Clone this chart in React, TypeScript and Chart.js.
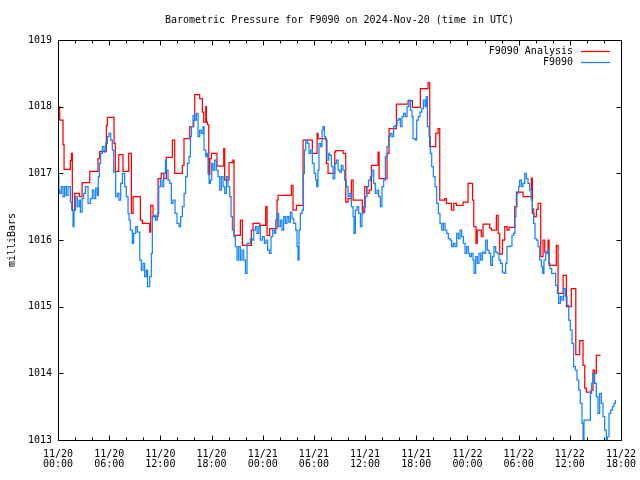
import React, { useEffect, useRef } from 'react';
import { Chart, registerables } from 'chart.js';

Chart.register(...registerables);

const TITLE = 'Barometric Pressure for F9090 on 2024-Nov-20 (time in UTC)';
const Y_TITLE = 'milliBars';
const SERIES_NAMES = ['F9090 Analysis', 'F9090'];
const SERIES_COLORS = ['#ff0000', '#1485ff'];

// hours since 2024-11-20 00:00 UTC; labels every 6 h
const xTickLabels = [
  ['11/20', '00:00'], ['11/20', '06:00'], ['11/20', '12:00'], ['11/20', '18:00'],
  ['11/21', '00:00'], ['11/21', '06:00'], ['11/21', '12:00'], ['11/21', '18:00'],
  ['11/22', '00:00'], ['11/22', '06:00'], ['11/22', '12:00'], ['11/22', '18:00'],
];
const yTickValues = [1013, 1014, 1015, 1016, 1017, 1018, 1019];

// F9090 Analysis (step series)
const redTimes = [0, 0.2, 0.59, 0.71, 1.45, 1.57, 1.68, 1.96, 2.5, 2.82, 3.72, 4.69, 4.89, 5.67, 5.79, 6.57, 6.72, 7.12, 7.62, 8.29, 8.6, 8.8, 9.66, 9.89, 10.75, 10.87, 11.14, 11.73, 12.1, 12.4, 12.7, 13.41, 13.68, 14.58, 14.77, 15.44, 15.91, 16.03, 16.61, 16.92, 17.08, 17.32, 17.4, 17.51, 17.67, 17.8, 17.98, 18.64, 19.43, 19.54, 20.05, 20.5, 20.64, 21.38, 21.61, 22.67, 22.86, 23.65, 24.35, 24.51, 24.82, 25.68, 25.8, 27.36, 27.55, 27.95, 28.73, 29.82, 30.37, 30.48, 31.46, 31.66, 32.44, 32.55, 33.41, 33.73, 34.0, 34.39, 34.59, 35.68, 35.96, 36.2, 36.47, 36.74, 37.52, 37.64, 38.57, 38.81, 39.67, 41.04, 41.54, 42.48, 43.38, 43.58, 44.28, 44.55, 44.75, 45.33, 45.53, 46.12, 46.4, 46.7, 47.48, 48.07, 48.6, 48.74, 49.0, 49.15, 49.63, 49.83, 50.61, 50.81, 51.39, 51.59, 51.78, 52.1, 52.37, 52.65, 52.88, 53.54, 53.74, 54.52, 55.49, 55.61, 55.81, 56.08, 56.28, 56.59, 56.86, 57.06, 57.45, 57.57, 58.42, 58.62, 59.21, 59.6, 60.18, 60.7, 61.16, 61.55, 61.75, 61.94, 62.5, 62.72, 62.9, 63.11, 63.6];
const redValues = [1018.0, 1017.8, 1017.43, 1017.06, 1017.19, 1017.3, 1016.45, 1016.7, 1016.65, 1016.86, 1017.03, 1017.22, 1017.33, 1017.72, 1017.84, 1017.45, 1017.03, 1017.28, 1017.03, 1017.3, 1016.4, 1016.65, 1016.3, 1016.25, 1016.12, 1016.52, 1016.35, 1016.92, 1017.0, 1016.92, 1017.24, 1017.5, 1017.0, 1017.12, 1017.52, 1017.7, 1017.8, 1018.18, 1018.12, 1017.92, 1017.77, 1018.0, 1017.77, 1017.73, 1016.98, 1017.22, 1017.3, 1017.11, 1017.37, 1016.9, 1017.16, 1017.2, 1016.07, 1016.3, 1015.92, 1016.15, 1016.25, 1016.22, 1016.5, 1016.07, 1016.17, 1016.6, 1016.67, 1016.82, 1016.45, 1016.52, 1017.5, 1017.3, 1017.6, 1017.52, 1017.15, 1017.0, 1017.32, 1017.34, 1017.3, 1016.57, 1016.62, 1016.9, 1016.6, 1016.42, 1016.8, 1016.7, 1016.75, 1017.12, 1017.32, 1016.92, 1017.3, 1017.67, 1018.04, 1018.09, 1017.99, 1018.27, 1018.36, 1017.4, 1017.6, 1017.67, 1016.6, 1016.62, 1016.55, 1016.45, 1016.55, 1016.52, 1016.57, 1016.85, 1016.6, 1016.2, 1015.95, 1016.15, 1016.05, 1016.24, 1016.18, 1016.15, 1016.37, 1016.1, 1015.79, 1016.0, 1016.2, 1016.15, 1016.19, 1016.5, 1016.72, 1016.65, 1016.93, 1016.4, 1016.35, 1016.46, 1016.55, 1015.75, 1016.0, 1015.82, 1016.0, 1015.62, 1015.92, 1015.2, 1015.47, 1015.0, 1015.27, 1014.28, 1014.49, 1014.12, 1013.78, 1013.72, 1013.75, 1014.05, 1014.0, 1014.27, 1014.27];

// F9090 observations
const blueTimes = [0, 0.1, 0.2, 0.39, 0.59, 0.78, 0.98, 1.18, 1.45, 1.6, 1.76, 1.88, 2.07, 2.27, 2.47, 2.62, 2.82, 3.01, 3.21, 3.52, 3.8, 4.03, 4.22, 4.42, 4.61, 4.73, 4.85, 5.0, 5.2, 5.4, 5.59, 5.79, 5.98, 6.18, 6.37, 6.53, 6.76, 6.96, 7.15, 7.35, 7.55, 7.82, 8.01, 8.21, 8.33, 8.48, 8.72, 8.87, 9.11, 9.3, 9.58, 9.77, 9.97, 10.16, 10.36, 10.5, 10.75, 10.95, 11.06, 11.26, 11.45, 11.65, 11.81, 12.0, 12.2, 12.39, 12.59, 12.7, 12.9, 13.1, 13.29, 13.49, 13.72, 13.95, 14.19, 14.38, 14.58, 14.78, 14.97, 15.17, 15.36, 15.52,
  15.64, 15.83, 16.03, 16.22, 16.42, 16.61, 16.81, 17.0, 17.12, 17.32, 17.47, 17.59, 17.71, 17.86, 18.02, 18.18, 18.37, 18.57, 18.76, 18.96, 19.15, 19.35, 19.54, 19.74, 19.93, 20.13, 20.29, 20.44, 20.64, 20.79, 20.99, 21.18, 21.38, 21.57, 21.77, 21.97, 22.16, 22.36, 22.55, 22.75, 22.94, 23.14, 23.33, 23.53, 23.72, 23.96, 24.19, 24.39, 24.58, 24.78, 24.97, 25.17, 25.37, 25.52, 25.68, 25.87, 26.07, 26.26, 26.46, 26.66, 26.85, 27.05, 27.24, 27.44, 27.63, 27.87, 28.02, 28.14, 28.26, 28.41, 28.61, 28.77, 28.88, 29.04, 29.23, 29.43, 29.63, 29.82, 30.02, 30.21, 30.33, 30.48, 30.6, 30.8, 30.95, 31.07, 31.23, 31.38, 31.54, 31.74,
  31.85, 32.05, 32.24, 32.44, 32.63, 32.83, 33.02, 33.22, 33.41, 33.61, 33.8, 34.0, 34.2, 34.39, 34.59, 34.7, 34.86, 35.05, 35.25, 35.45, 35.64, 35.84, 36.03, 36.23, 36.42, 36.62, 36.81, 37.01, 37.2, 37.4, 37.59, 37.79, 37.98, 38.18, 38.38, 38.57, 38.77, 38.96, 39.16, 39.35, 39.55, 39.74, 39.94, 40.13, 40.33, 40.52, 40.72, 40.92, 41.11, 41.31, 41.5, 41.62, 41.89, 42.05, 42.24, 42.44, 42.64, 42.83, 43.03, 43.18, 43.3, 43.5, 43.65, 43.81, 44.0, 44.2, 44.39, 44.59, 44.78, 44.98, 45.18, 45.37, 45.57, 45.76, 45.96, 46.15, 46.35, 46.54, 46.74, 46.93, 47.13, 47.32, 47.52, 47.72, 47.91, 48.11,
  48.26, 48.46, 48.65, 48.77, 48.96, 49.16, 49.35, 49.55, 49.74, 49.94, 50.14, 50.33, 50.53, 50.72, 50.92, 51.11, 51.31, 51.5, 51.7, 51.89, 52.09, 52.28, 52.48, 52.64, 52.95, 53.22, 53.42, 53.57, 53.69, 53.81, 54.0, 54.12, 54.32, 54.51, 54.71, 54.9, 55.1, 55.29, 55.49, 55.61, 55.76, 55.92, 56.08, 56.27, 56.47, 56.66, 56.82, 56.97, 57.17, 57.37, 57.52, 57.68, 57.87, 58.1, 58.34, 58.54, 58.69, 58.89, 59.08, 59.28, 59.48, 59.67, 59.87, 60.06, 60.26, 60.45, 60.65, 60.84, 61.04, 61.23, 61.43, 61.55, 61.66, 61.94, 62.33, 62.41, 62.56, 62.72, 62.91, 63.11, 63.3, 63.5, 63.7, 63.89, 64.09, 64.28, 64.4, 64.59, 64.79, 64.99, 65.18, 65.34];
const blueValues = [1016.95, 1016.75, 1016.7, 1016.8, 1016.65, 1016.8, 1016.67, 1016.8, 1016.57, 1016.45, 1016.2, 1016.45, 1016.65, 1016.5, 1016.6, 1016.42, 1016.62, 1016.7, 1016.8, 1016.55, 1016.62, 1016.75, 1016.62, 1016.78, 1016.67, 1016.95, 1017.15, 1017.3, 1017.4, 1017.32, 1017.45, 1017.55, 1017.6, 1017.5, 1017.35, 1017.02, 1016.65, 1016.7, 1016.6, 1016.85, 1017.0, 1016.8, 1016.65, 1016.4, 1016.3, 1016.15, 1015.95, 1016.1, 1016.2, 1016.12, 1015.7, 1015.55, 1015.65, 1015.45, 1015.55, 1015.3, 1015.45, 1015.8, 1016.35, 1016.37, 1016.3, 1016.4, 1016.8, 1016.9, 1016.8, 1017.0, 1017.2, 1017.05, 1016.9, 1016.85, 1016.55, 1016.6, 1016.4, 1016.25, 1016.2, 1016.35, 1016.5, 1016.7, 1016.95, 1017.15, 1017.25, 1017.55,
  1017.7, 1017.87, 1017.8, 1017.9, 1017.55, 1017.65, 1017.6, 1017.7, 1017.35, 1017.25, 1017.3, 1017.0, 1016.85, 1016.9, 1017.15, 1017.05, 1017.2, 1017.05, 1016.95, 1016.75, 1016.95, 1016.8, 1016.7, 1016.95, 1016.8, 1016.65, 1016.35, 1016.15, 1016.05, 1015.9, 1015.7, 1015.9, 1015.7, 1015.85, 1015.7, 1015.5, 1015.95, 1015.95, 1016.02, 1016.0, 1016.15, 1016.2, 1016.1, 1016.2, 1016.0, 1016.05, 1015.95, 1016.0, 1015.85, 1015.8, 1016.05, 1016.15, 1016.1, 1016.3, 1016.4, 1016.2, 1016.3, 1016.15, 1016.35, 1016.25, 1016.35, 1016.27, 1016.42, 1016.32, 1016.25, 1016.15, 1015.9, 1015.7, 1016.15, 1016.4, 1016.45, 1017.0, 1017.35, 1017.5, 1017.45, 1017.3, 1017.35, 1017.15, 1017.0, 1016.9, 1016.8, 1017.05, 1017.45, 1017.4, 1017.65, 1017.7, 1017.55, 1017.5, 1017.2, 1017.3,
  1017.27, 1017.1, 1016.92, 1017.15, 1017.2, 1017.05, 1017.02, 1017.12, 1017.05, 1016.9, 1016.8, 1016.65, 1016.7, 1016.5, 1016.35, 1016.1, 1016.45, 1016.5, 1016.4, 1016.2, 1016.4, 1016.5, 1016.65, 1016.8, 1016.9, 1016.95, 1017.05, 1016.85, 1016.7, 1016.75, 1016.65, 1016.5, 1016.8, 1016.9, 1017.25, 1017.4, 1017.55, 1017.6, 1017.55, 1017.7, 1017.72, 1017.8, 1017.82, 1017.7, 1017.85, 1017.9, 1017.85, 1018.0, 1018.1, 1017.95, 1017.85, 1017.52, 1017.5, 1017.8, 1017.85, 1017.92, 1017.97, 1018.1, 1018.0, 1018.15, 1017.7, 1017.55, 1017.3, 1017.1, 1016.95, 1016.8, 1016.55, 1016.4, 1016.25, 1016.15, 1016.25, 1016.15, 1016.1, 1016.02, 1016.0, 1015.9, 1015.95, 1015.9, 1016.1, 1016.02, 1016.15, 1016.05, 1015.95, 1015.8, 1015.9, 1015.8,
  1015.75, 1015.8, 1015.7, 1015.5, 1015.75, 1015.65, 1015.8, 1015.7, 1015.82, 1015.8, 1016.0, 1015.85, 1015.8, 1015.62, 1015.75, 1015.9, 1015.82, 1015.8, 1015.7, 1015.65, 1015.52, 1015.5, 1015.65, 1015.9, 1015.91, 1016.07, 1016.1, 1016.35, 1016.5, 1016.7, 1016.8, 1016.9, 1016.8, 1016.85, 1017.0, 1016.92, 1016.85, 1016.75, 1016.6, 1016.47, 1016.25, 1016.02, 1016.0, 1015.9, 1015.7, 1015.6, 1015.5, 1015.7, 1015.8, 1015.85, 1015.65, 1015.57, 1015.5, 1015.5, 1015.32, 1015.2, 1015.05, 1015.15, 1015.1, 1015.27, 1015.15, 1015.02, 1014.8, 1014.65, 1014.45, 1014.1, 1014.05, 1013.9, 1013.75, 1013.55, 1013.25, 1013.0, 1013.3, 1013.3, 1013.3, 1013.7, 1013.85, 1014.0, 1013.85, 1013.65, 1013.4, 1013.7, 1013.55, 1013.35, 1013.15, 1013.0, 1013.05, 1013.4, 1013.45, 1013.5, 1013.55, 1013.6];

const FONT_FAMILY = '"DejaVu Sans Mono", "Liberation Mono", monospace';
const LINE_WIDTH = 1.25;

const toPoints = (xs: number[], ys: number[]) => xs.map((x, i) => ({ x, y: ys[i] }));

const decorPlugin = {
  id: 'gnuplotDecor',
  afterDraw(chart: any) {
    const { ctx, chartArea: a, scales } = chart;
    const xs = scales.x;
    const ys = scales.y;
    ctx.save();
    ctx.strokeStyle = '#000';
    ctx.lineWidth = 1;
    ctx.strokeRect(a.left + 0.5, a.top + 0.5, a.right - a.left, a.bottom - a.top);
    ctx.beginPath();
    for (let h = 0; h <= 66; h += 2) {
      const px = Math.round(xs.getPixelForValue(h)) + 0.5;
      const len = h % 6 === 0 ? 5 : 3;
      ctx.moveTo(px, a.bottom + 0.5);
      ctx.lineTo(px, a.bottom + 0.5 - len);
      ctx.moveTo(px, a.top + 0.5);
      ctx.lineTo(px, a.top + 0.5 + len);
    }
    yTickValues.forEach((v) => {
      const py = Math.round(ys.getPixelForValue(v)) + 0.5;
      ctx.moveTo(a.left + 0.5, py);
      ctx.lineTo(a.left + 5.5, py);
      ctx.moveTo(a.right + 0.5, py);
      ctx.lineTo(a.right - 4.5, py);
    });
    ctx.stroke();

    ctx.fillStyle = '#000';
    ctx.font = `10px ${FONT_FAMILY}`;
    ctx.textBaseline = 'middle';
    ctx.textAlign = 'center';
    ctx.fillText(TITLE, (a.left + a.right) / 2, 20);

    // legend (top right, inside plot)
    const textRight = a.right - 48;
    const lineX0 = a.right - 40;
    const lineX1 = a.right - 11;
    SERIES_NAMES.forEach((name, i) => {
      const y = a.top + 11.5 + i * 11;
      ctx.textAlign = 'right';
      ctx.fillStyle = '#000';
      ctx.fillText(name, textRight, y);
      ctx.strokeStyle = SERIES_COLORS[i];
      ctx.lineWidth = LINE_WIDTH;
      ctx.beginPath();
      ctx.moveTo(lineX0, y);
      ctx.lineTo(lineX1, y);
      ctx.stroke();
    });
    ctx.restore();
  },
};

export default function App() {
  const ref = useRef<HTMLCanvasElement | null>(null);

  useEffect(() => {
    if (!ref.current) return;
    Chart.defaults.font.family = FONT_FAMILY;
    Chart.defaults.font.size = 10;
    Chart.defaults.color = '#000';

    const chart = new Chart(ref.current, {
      type: 'line',
      data: {
        datasets: [
          {
            label: SERIES_NAMES[0],
            data: toPoints(redTimes, redValues),
            borderColor: SERIES_COLORS[0],
            backgroundColor: SERIES_COLORS[0],
            borderWidth: LINE_WIDTH,
            pointRadius: 0,
            stepped: 'before',
            fill: false,
            order: 1,
          },
          {
            label: SERIES_NAMES[1],
            data: toPoints(blueTimes, blueValues),
            borderColor: SERIES_COLORS[1],
            backgroundColor: SERIES_COLORS[1],
            borderWidth: LINE_WIDTH,
            pointRadius: 0,
            stepped: 'before',
            fill: false,
            order: 0,
          },
        ],
      },
      options: {
        responsive: false,
        animation: false,
        devicePixelRatio: 1,
        events: [],
        layout: { padding: { top: 40, right: 19, bottom: 0, left: 0 } },
        plugins: {
          legend: { display: false },
          tooltip: { enabled: false },
          title: { display: false },
        },
        scales: {
          x: {
            type: 'linear',
            min: 0,
            max: 66,
            grid: { display: false, drawTicks: false },
            border: { display: false },
            ticks: {
              stepSize: 6,
              autoSkip: false,
              maxRotation: 0,
              padding: 9,
              align: 'center',
              font: { size: 10, lineHeight: 1.05 },
              callback: (v: any) => {
                const idx = Math.round(Number(v) / 6);
                return xTickLabels[idx] ?? '';
              },
            },
            afterFit: (scale: any) => {
              scale.height = 40;
              scale.paddingLeft = 0;
              scale.paddingRight = 0;
            },
          },
          y: {
            type: 'linear',
            min: 1013,
            max: 1019,
            grid: { display: false, drawTicks: false },
            border: { display: false },
            ticks: {
              stepSize: 1,
              padding: 6,
              font: { size: 10 },
              callback: (v: any) => String(v),
            },
            title: {
              display: true,
              text: Y_TITLE,
              font: { size: 10, lineHeight: 1.2 },
              padding: { top: 6.5, bottom: 0 },
            },
            afterFit: (scale: any) => {
              scale.width = 58;
              scale.paddingTop = 0;
              scale.paddingBottom = 0;
            },
          },
        },
      },
      plugins: [decorPlugin],
    });
    return () => chart.destroy();
  }, []);

  return (
    <div style={{ position: 'absolute', left: 0, top: 0, width: 640, height: 480, background: '#fff' }}>
      <canvas ref={ref} width={640} height={480} style={{ display: 'block' }} />
    </div>
  );
}
